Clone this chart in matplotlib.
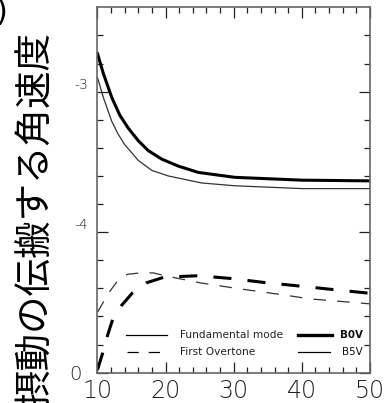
import matplotlib
matplotlib.use("Agg")
import matplotlib.pyplot as plt
from matplotlib.lines import Line2D
from matplotlib.transforms import ScaledTranslation
import numpy as np

# ---- data ----
x_b0v_fund = [10, 10.85, 12.08, 13.3, 14.52, 16, 17.46, 19.42, 21.86, 24.8, 30.18, 40, 50]
b0v_fund = [-2.73, -2.87, -3.04, -3.17, -3.26, -3.35, -3.42, -3.48, -3.53, -3.575, -3.61, -3.63, -3.635]
x_b5v_fund = [10, 10.85, 12.08, 13.0, 14.04, 16, 17.96, 20.39, 25.29, 30.18, 40, 50]
b5v_fund = [-2.90, -3.04, -3.21, -3.30, -3.38, -3.49, -3.56, -3.60, -3.65, -3.67, -3.69, -3.69]

x_b0v_ot = [10, 10.76, 11.44, 12.23, 13.55, 15.17, 17.2, 19.8, 24.8, 29.7, 34.8, 40, 44.9, 50]
b0v_ot = [-4.98, -4.86, -4.74, -4.62, -4.52, -4.43, -4.36, -4.32, -4.31, -4.33, -4.36, -4.385, -4.41, -4.435]
x_b5v_ot = [10, 10.95, 11.83, 12.9, 14.37, 16.24, 18.2, 19.9, 25, 30.4, 37.8, 41.2, 50]
b5v_ot = [-4.57, -4.49, -4.42, -4.35, -4.30, -4.29, -4.29, -4.31, -4.36, -4.40, -4.45, -4.475, -4.51]

xticks = [10, 20, 30, 40, 50]
xtick_labels = ["10", "20", "30", "40", "50"]
yticks = [-5, -4, -3]
ytick_labels = ["0", "-4", "-3"]
ylabel = "摂動の伝搬する角速度"
legend_rows = [("Fundamental mode", "B0V"), ("First Overtone", "B5V")]

# ---- figure ----
fig = plt.figure(figsize=(3.85, 4.03), dpi=100)
ax = fig.add_axes([97.5/385, 1 - 372.7/403, (370 - 97.5)/385, (372.7 - 7.3)/403])

ax.plot(x_b0v_fund, b0v_fund, color="black", lw=2.2)
ax.plot(x_b5v_fund, b5v_fund, color="#333333", lw=0.9)
ax.plot(x_b0v_ot, b0v_ot, color="black", lw=2.2, dashes=(5.9, 5.3))
ax.plot(x_b5v_ot, b5v_ot, color="#333333", lw=0.9, dashes=(10, 9))

ax.set_xlim(10, 50)
ax.set_ylim(-5, -2.4)

ax.set_xticks(xticks, xtick_labels)
ax.set_xticks(np.arange(10, 51, 2), minor=True)
ax.set_yticks(yticks, ytick_labels)
ax.set_yticks(np.arange(-5, -2.5, 0.2), minor=True)

ax.tick_params(which="both", direction="in", top=True, right=True, color="#222222", width=0.9)
ax.tick_params(which="major", length=8)
ax.tick_params(which="minor", length=4.5)
ax.tick_params(axis="x", which="major", labelsize=17, pad=4.5, labelcolor="#222222")
ax.tick_params(axis="y", which="major", labelsize=10, pad=7, labelcolor="#222222")
for lab in ax.get_xticklabels():
    lab.set_fontweight("light")
for lab in ax.get_yticklabels():
    lab.set_fontweight("light")
    if lab.get_text() == "0":
        lab.set_fontsize(14)
        lab.set_transform(lab.get_transform() + ScaledTranslation(-6/100, 0, fig.dpi_scale_trans))
    else:
        lab.set_verticalalignment("bottom")

for sp in ax.spines.values():
    sp.set_color("#666666")
    sp.set_linewidth(1.2)

# ---- custom legend ----
row_y = [0.103, 0.057]
ax.add_line(Line2D([0.1035, 0.254], [row_y[0]] * 2, transform=ax.transAxes, color="black", lw=0.9))
ax.add_line(Line2D([0.1075, 0.254], [row_y[1]] * 2, transform=ax.transAxes, color="black", lw=0.9,
                   dashes=(9, 8)))
ax.add_line(Line2D([0.736, 0.86], [row_y[0]] * 2, transform=ax.transAxes, color="black", lw=2.4))
ax.add_line(Line2D([0.736, 0.855], [row_y[1]] * 2, transform=ax.transAxes, color="black", lw=0.9))
for (name, star), yy, bold in zip(legend_rows, row_y, [True, False]):
    ax.text(0.303, yy, name, transform=ax.transAxes, fontsize=7.6, va="center", ha="left", color="#222222")
    ax.text(0.973, yy, star, transform=ax.transAxes, fontsize=7.4, va="center", ha="right",
            fontweight="bold" if bold else "normal", color="#111111")

# ---- y label (Japanese) ----
fig.text(36/385, 1 - 32/403, ylabel, rotation=90, ha="center", va="top", fontsize=27,
         family=["Noto Sans CJK JP", "DejaVu Sans"], color="black")
fig.text(-0.012, 1.005, ")", ha="left", va="top", fontsize=22, color="black")

fig.savefig("out.png", dpi=100)
